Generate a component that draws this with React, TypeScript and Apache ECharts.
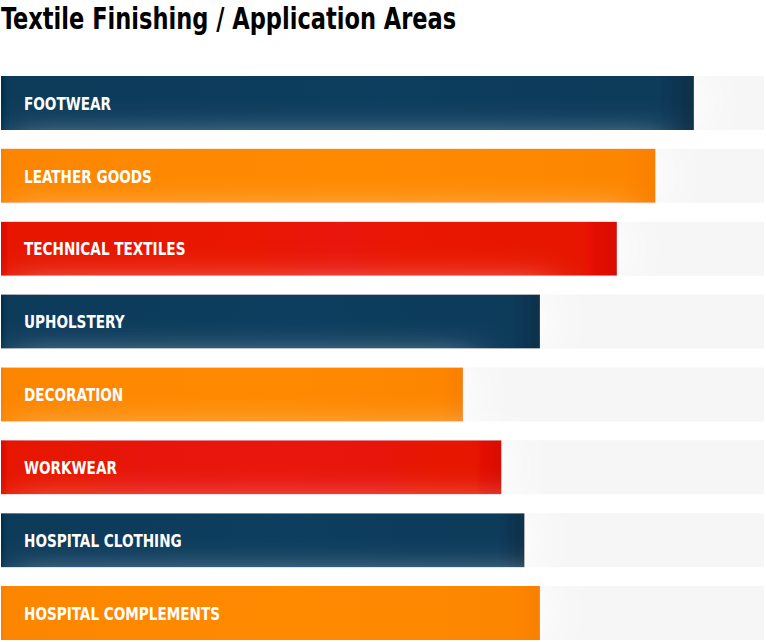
import React, { useEffect, useRef } from "react";
import * as echarts from "echarts";

const categories = [
  "FOOTWEAR",
  "LEATHER GOODS",
  "TECHNICAL TEXTILES",
  "UPHOLSTERY",
  "DECORATION",
  "WORKWEAR",
  "HOSPITAL CLOTHING",
  "HOSPITAL COMPLEMENTS",
];
const values = [90, 85, 80, 70, 60, 65, 68, 70];
const colorKeys = ["navy", "orange", "red", "navy", "orange", "red", "navy", "orange"];
const titleText = "Textile Finishing / Application Areas";

const FONT = "'DejaVu Sans Condensed', 'DejaVu Sans', sans-serif";

const palette: Record<string, string[]> = {
  navy: ["#05304c", "#093a5a", "#0a3d5e", "#073049"],
  orange: ["#f78000", "#fd8603", "#ff8a06", "#f98000"],
  red: ["#d80d04", "#e61206", "#e91507", "#d80e05"],
};

function grad(key: string) {
  const [a, b, m, c] = palette[key];
  return new echarts.graphic.LinearGradient(0, 0, 1, 0, [
    { offset: 0, color: a },
    { offset: 0.012, color: b },
    { offset: 0.55, color: m },
    { offset: 0.95, color: b },
    { offset: 1, color: c },
  ]);
}

export default function App() {
  const ref = useRef<HTMLDivElement>(null);
  useEffect(() => {
    if (!ref.current) return;
    const chart = echarts.init(ref.current, undefined, { renderer: "svg" });
    const data = values.map((v, i) => [v, i]);
    chart.setOption({
      animation: false,
      backgroundColor: "#ffffff",
      graphic: [
        {
          type: "text",
          left: 1,
          top: 4,
          scaleX: 0.835,
          style: {
            text: titleText,
            fill: "#000",
            font: `bold 30px ${FONT}`,
          },
        },
      ],
      grid: { left: 1, top: 66.5, width: 763, height: 583 },
      xAxis: { type: "value", min: 0, max: 99.1, show: false },
      yAxis: {
        type: "category",
        data: categories,
        inverse: true,
        show: false,
      },
      series: [
        {
          type: "custom",
          data,
          encode: { x: 0, y: 1 },
          renderItem: (params: any, api: any) => {
            const idx = api.value(1);
            const v = api.value(0);
            const start = api.coord([0, idx]);
            const end = api.coord([v, idx]);
            const cs = params.coordSys;
            const h = 54;
            const y = start[1] - h / 2;
            return {
              type: "group",
              children: [
                {
                  type: "rect",
                  shape: { x: cs.x, y, width: cs.width, height: h },
                  style: { fill: "#f6f6f6" },
                  silent: true,
                },
                {
                  type: "rect",
                  shape: { x: start[0], y, width: end[0] - start[0], height: h },
                  style: {
                    fill: grad(colorKeys[params.dataIndex]),
                    shadowColor: "rgba(255,255,255,1)",
                    shadowBlur: 40,
                    shadowOffsetX: 12,
                  },
                },
                {
                  type: "text",
                  x: start[0] + 23,
                  y: start[1] + 1,
                  scaleX: 0.89,
                  style: {
                    text: categories[params.dataIndex],
                    fill: "#ffffff",
                    font: `bold 17px ${FONT}`,
                    verticalAlign: "middle",
                    align: "left",
                  },
                },
              ],
            };
          },
        },
      ],
    });
    return () => chart.dispose();
  }, []);
  return (
    <div style={{ position: "absolute", left: 0, top: 0, width: 766, height: 642, overflow: "hidden" }}>
      <div ref={ref} style={{ width: 766, height: 660 }} />
    </div>
  );
}
